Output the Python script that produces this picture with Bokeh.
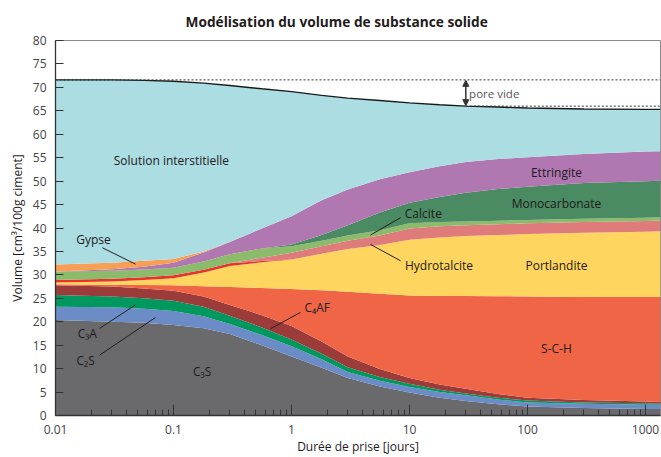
import numpy as np
from bokeh.plotting import figure
from bokeh.models import FixedTicker, Label, Arrow, NormalHead, Span
from bokeh.embed import file_html
from bokeh.resources import INLINE

# ---------------- data (volume in cm3 / 100 g ciment) ----------------
days = [0.01, 0.03, 0.056, 0.1, 0.18, 0.3, 0.56, 1, 1.8, 3, 5.6, 10, 18, 30, 56, 100, 300, 1000, 1340]

c3s          = [20.4, 20.0, 19.8, 19.3, 18.6, 17.4, 15.0, 12.6, 10.2, 8.0, 6.2, 4.9, 3.8, 3.1, 2.4, 1.9, 1.6, 1.4, 1.4]
c2s          = [2.8, 3.1, 3.0, 3.0, 2.6, 2.1, 2.2, 2.2, 1.8, 1.3, 1.2, 1.2, 1.2, 1.2, 1.0, 0.9, 0.9, 0.9, 0.9]
c3a          = [2.5, 2.3, 2.2, 2.2, 2.0, 1.8, 1.6, 1.4, 1.2, 1.0, 0.8, 0.7, 0.5, 0.4, 0.4, 0.4, 0.3, 0.3, 0.2]
c4af         = [2.1, 2.1, 2.1, 2.1, 2.2, 2.3, 2.6, 2.9, 2.6, 2.3, 1.7, 1.2, 1.1, 1.0, 0.8, 0.6, 0.5, 0.4, 0.4]
sch          = [0.2, 0.4, 0.75, 1.2, 2.2, 3.8, 5.8, 7.9, 10.9, 13.8, 16.1, 17.6, 18.9, 19.8, 20.85, 21.6, 22.0, 22.3, 22.4]
portlandite  = [0.4, 0.7, 1.05, 1.5, 2.9, 4.5, 5.5, 6.3, 7.8, 9.1, 10.4, 11.9, 12.5, 12.8, 13.05, 13.3, 13.7, 13.9, 14.0]
syngenite    = [0.5, 0.6, 0.6, 0.6, 0.6, 0.6, 0.25, 0.0, 0.0, 0.0, 0.0, 0.0, 0.0, 0.0, 0.0, 0.0, 0.0, 0.0, 0.0]
hydrotalcite = [0.0, 0.0, 0.0, 0.0, 0.0, 0.0, 0.7, 1.4, 1.6, 1.8, 2.0, 2.4, 2.4, 2.3, 2.3, 2.3, 2.3, 2.3, 2.3]
calcite      = [1.8, 1.7, 1.65, 1.6, 1.75, 1.9, 2.0, 1.4, 1.2, 1.1, 1.1, 1.1, 0.9, 0.8, 0.75, 0.7, 0.7, 0.7, 0.7]
monocarb     = [0.0, 0.0, 0.0, 0.0, 0.0, 0.0, 0.0, 0.4, 1.2, 2.2, 3.8, 4.4, 5.3, 6.1, 6.75, 7.1, 7.6, 7.8, 7.8]
ettringite   = [0.0, 0.3, 0.6, 1.1, 1.95, 2.6, 4.25, 6.0, 7.4, 7.6, 7.1, 6.5, 6.6, 6.6, 6.4, 6.3, 6.2, 6.3, 6.3]
gypse        = [1.5, 1.4, 1.25, 0.8, 0.2, 0.0, 0.0, 0.0, 0.0, 0.0, 0.0, 0.0, 0.0, 0.0, 0.0, 0.0, 0.0, 0.0, 0.0]
solution     = [39.4, 39.0, 38.5, 37.9, 35.9, 33.4, 29.8, 26.6, 22.4, 19.5, 16.8, 14.8, 13.1, 11.9, 11.1, 10.5, 9.6, 9.0, 8.9]

x_ticks = [0.01, 0.1, 1, 10, 100, 1000]
x_tick_labels = ["0.01", "0.1", "1", "10", "100", "1000"]
y_ticks = list(range(0, 85, 5))
arrow_day = 30  # position of the "pore vide" arrow

FONT = "Open Sans"
TXT = "#1f1b1c"

layers = [
    (c3s, "#6a6a6c"),
    (c2s, "#6b8cc7"),
    (c3a, "#00985f"),
    (c4af, "#9b3c3a"),
    (sch, "#ef6546"),
    (portlandite, "#fed55e"),
    (syngenite, "#e8332a"),
    (hydrotalcite, "#df7c7b"),
    (calcite, "#8bbb6b"),
    (monocarb, "#4a8b63"),
    (ettringite, "#b077b0"),
    (gypse, "#f7a055"),
    (solution, "#acdde3"),
]

p = figure(width=661, height=457, x_axis_type="log",
           x_range=(days[0], days[-1]), y_range=(0, 80),
           output_backend="svg", toolbar_location=None,
           min_border_left=55, min_border_right=1,
           min_border_top=40, min_border_bottom=39)

x = np.array(days, dtype=float)
base = np.zeros(len(days))
for vals, col in layers:
    top = base + np.array(vals, dtype=float)
    p.varea(x=x, y1=base, y2=top, fill_color=col, fill_alpha=1.0)
    base = top
total = base

# top boundary
p.line(x, total, line_color="#1a1a1a", line_width=1.4)

# pore vide
i_arrow = days.index(arrow_day)
p.add_layout(Span(location=total[0], dimension="width", line_color="#333333",
                  line_dash="2 2", line_width=1))
p.line([arrow_day, days[-1]], [total[i_arrow], total[i_arrow]],
       line_color="#333333", line_dash="2 2", line_width=1)
p.add_layout(Arrow(start=NormalHead(size=6, fill_color="#333333", line_color="#333333"),
                   end=NormalHead(size=6, fill_color="#333333", line_color="#333333"),
                   x_start=arrow_day, y_start=total[0] - 0.1,
                   x_end=arrow_day, y_end=total[i_arrow] + 0.1,
                   line_color="#333333", line_width=1.5))
p.add_layout(Label(x=32, y=(total[0] + total[i_arrow]) / 2, text="pore vide",
                   text_font=FONT, text_font_size="11.5px", text_color="#555555",
                   text_baseline="middle", text_align="left"))

# phase labels
labels = [
    ("Solution interstitielle", 0.096, 54.5),
    ("Gypse", 0.021, 37.6),
    ("C\u2083A", 0.0186, 17.4),
    ("C\u2082S", 0.018, 11.7),
    ("C\u2083S", 0.175, 9.3),
    ("C\u2084AF", 1.65, 23.1),
    ("Calcite", 13.1, 43.2),
    ("Hydrotalcite", 17.8, 32.0),
    ("Portlandite", 176, 32.0),
    ("S-C-H", 176, 14.4),
    ("Ettringite", 176, 51.8),
    ("Monocarbonate", 176, 45.2),
]
for txt, lx, ly in labels:
    p.add_layout(Label(x=lx, y=ly, text=txt, text_font=FONT, text_font_size="12px",
                       text_color=TXT, text_align="center", text_baseline="middle"))

leaders = [
    ((0.0249, 0.0476), (35.8, 32.3)),
    ((0.0237, 0.0476), (18.6, 23.6)),
    ((0.0237, 0.0703), (12.9, 20.9)),
    ((0.664, 1.19), (18.5, 22.0)),
    ((4.67, 8.4), (38.5, 42.2)),
    ((4.67, 8.4), (36.5, 33.0)),
]
for (xs, ys) in leaders:
    p.line(list(xs), list(ys), line_color="#231f20", line_width=1)

# axes
p.xaxis.ticker = FixedTicker(ticks=x_ticks,
                             minor_ticks=[m * 10.0 ** e for e in range(-2, 4) for m in range(2, 10)])
p.xaxis.major_label_overrides = dict(zip(x_ticks, x_tick_labels))
p.yaxis.ticker = FixedTicker(ticks=y_ticks)
for ax in (p.xaxis[0], p.yaxis[0]):
    ax.major_tick_out = 0
    ax.minor_tick_out = 0
    ax.axis_line_color = "#333333"
    ax.axis_line_width = 1.3
    ax.major_tick_line_color = "#333333"
    ax.minor_tick_line_color = "#333333"
    ax.major_label_text_font = FONT
    ax.major_label_text_font_size = "12px"
    ax.major_label_text_color = "#444444"
    ax.axis_label_text_font = FONT
    ax.axis_label_text_font_size = "12px"
    ax.axis_label_text_font_style = "normal"
    ax.axis_label_text_color = TXT
p.yaxis.major_tick_in = 8
p.yaxis.minor_tick_in = 0
p.xaxis.major_tick_in = 11
p.xaxis.minor_tick_in = 6
p.xaxis.major_label_standoff = 9
p.xaxis.axis_label_standoff = 1
p.yaxis.major_label_standoff = 9
p.yaxis.axis_label_standoff = 4
p.xaxis.axis_label = "Durée de prise [jours]"
p.yaxis.axis_label = "Volume [cm³/100g ciment]"

p.xgrid.visible = False
p.ygrid.visible = False
p.outline_line_color = "#8a8a8a"
p.outline_line_width = 1
p.background_fill_color = "white"
p.border_fill_color = "white"

p.title.text = "Modélisation du volume de substance solide"
p.title.align = "left"
p.title.offset = 130
p.title.standoff = 19
p.title.text_font = FONT
p.title.text_font_size = "13.7px"
p.title.text_font_style = "bold"
p.title.text_color = TXT

open("out.html", "w").write(file_html(p, INLINE))
